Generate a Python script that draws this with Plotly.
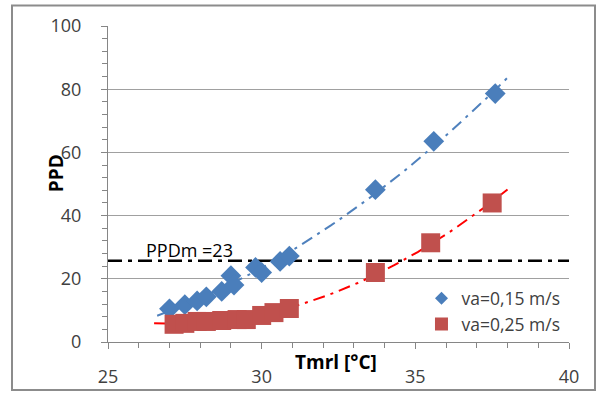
import numpy as np
import plotly.graph_objects as go

# ---- data ----
blue_x = [27.0, 27.5, 27.9, 28.2, 28.7, 29.0, 29.1, 29.8, 30.0, 30.6, 30.9, 33.7, 35.6, 37.6]
blue_y = [10.5, 11.8, 13.0, 14.3, 16.0, 21.0, 18.0, 23.6, 22.0, 25.5, 27.2, 48.2, 63.5, 78.6]
red_x = [27.15, 27.5, 27.9, 28.2, 28.7, 29.2, 29.5, 30.0, 30.4, 30.9, 33.7, 35.5, 37.5]
red_y = [5.6, 5.9, 6.5, 6.5, 6.8, 7.1, 7.1, 8.4, 9.3, 10.6, 22.0, 31.4, 44.0]
series_names = ["va=0,15 m/s", "va=0,25 m/s"]
ppdm_level = 25.7
ppdm_label = "PPDm =23"
blue_trend_range = [26.6, 38.1]
red_trend_range = [26.5, 38.0]
x_ticks = [25, 30, 35, 40]
y_ticks = [0, 20, 40, 60, 80, 100]

BLUE = "#4A7EBB"
RED = "#C0504D"
FONT = "Open Sans"

fig = go.Figure()

# polynomial (order 2) trendlines like the original spreadsheet chart
for xs, ys, rng, col in [(blue_x, blue_y, blue_trend_range, "#4F81BD"),
                         (red_x, red_y, red_trend_range, "#FF0000")]:
    c = np.polyfit(xs, ys, 2)
    tx = np.linspace(rng[0], rng[1], 60)
    fig.add_trace(go.Scatter(x=tx, y=np.polyval(c, tx), mode="lines",
                             line=dict(color=col, width=2, dash="12px,6px,3px,6px"),
                             showlegend=False, hoverinfo="skip"))

# PPDm reference line
fig.add_trace(go.Scatter(x=[x_ticks[0], x_ticks[-1]], y=[ppdm_level, ppdm_level], mode="lines",
                         line=dict(color="black", width=2.5, dash="14px,6px,4px,6px"),
                         showlegend=False, hoverinfo="skip"))

fig.add_trace(go.Scatter(x=blue_x, y=blue_y, mode="markers",
                         marker=dict(symbol="diamond", size=16, color=BLUE),
                         showlegend=False))
fig.add_trace(go.Scatter(x=red_x, y=red_y, mode="markers",
                         marker=dict(symbol="square", size=19, color=RED),
                         showlegend=False))

# legend entries
fig.add_trace(go.Scatter(x=[None], y=[None], mode="markers", name=series_names[0],
                         marker=dict(symbol="diamond", size=10, color=BLUE)))
fig.add_trace(go.Scatter(x=[None], y=[None], mode="markers", name=series_names[1],
                         marker=dict(symbol="square", size=13, color=RED)))

L, R, T, B = 108, 28, 26, 52
fig.update_layout(
    width=597, height=400,
    margin=dict(l=L, r=R, t=T, b=B),
    paper_bgcolor="white", plot_bgcolor="white",
    font=dict(family=FONT, size=18, color="#404040"),
    legend=dict(x=0.68, y=0.195, xanchor="left", yanchor="top",
                bgcolor="white", font=dict(size=17.5, color="#404040"),
                itemwidth=30, tracegroupgap=0),
    xaxis=dict(range=[25, 40], tickvals=x_ticks, showgrid=False, zeroline=False,
               showline=True, linecolor="#868686", linewidth=1,
               ticks="outside", ticklen=6, tickcolor="#868686",
               minor=dict(dtick=1, ticks="outside", ticklen=5, tickcolor="#868686"),
               ticklabelstandoff=12),
    yaxis=dict(range=[0, 100], tickvals=y_ticks, showgrid=True, gridcolor="#A0A0A0",
               gridwidth=1, zeroline=False,
               showline=True, linecolor="#868686", linewidth=1,
               ticks="outside", ticklen=6, tickcolor="#868686",
               minor=dict(dtick=4, ticks="outside", ticklen=5, tickcolor="#868686"),
               ticklabelstandoff=16),
)

pw = 597 - L - R
ph = 400 - T - B
def px2paper(xp, yp):
    return (xp - L) / pw, (400 - B - yp) / ph

# outer chart frame
x0, y1 = px2paper(12, 5)
x1, y0 = px2paper(595, 397)
fig.add_shape(type="rect", xref="paper", yref="paper", x0=x0, x1=x1, y0=y0, y1=y1,
              line=dict(color="#8C8C8C", width=2), layer="above")

fig.add_annotation(x=27.65, y=29.0, xref="x", yref="y", text=ppdm_label, showarrow=False,
                   font=dict(family=FONT, size=18, color="black"))
ax, ay = px2paper(336, 384)
fig.add_annotation(x=ax, y=ay, xref="paper", yref="paper", text="<b>Tmrl [°C]</b>",
                   showarrow=False, font=dict(family=FONT, size=19, color="black"))
bx, by = px2paper(41, 176)
fig.add_annotation(x=bx, y=by, xref="paper", yref="paper", text="<b>PPD</b>",
                   textangle=-90, showarrow=False, font=dict(family=FONT, size=19, color="black"))

fig.write_html("out.html", post_script="document.body.style.margin='0';",
               config={"displayModeBar": False})
